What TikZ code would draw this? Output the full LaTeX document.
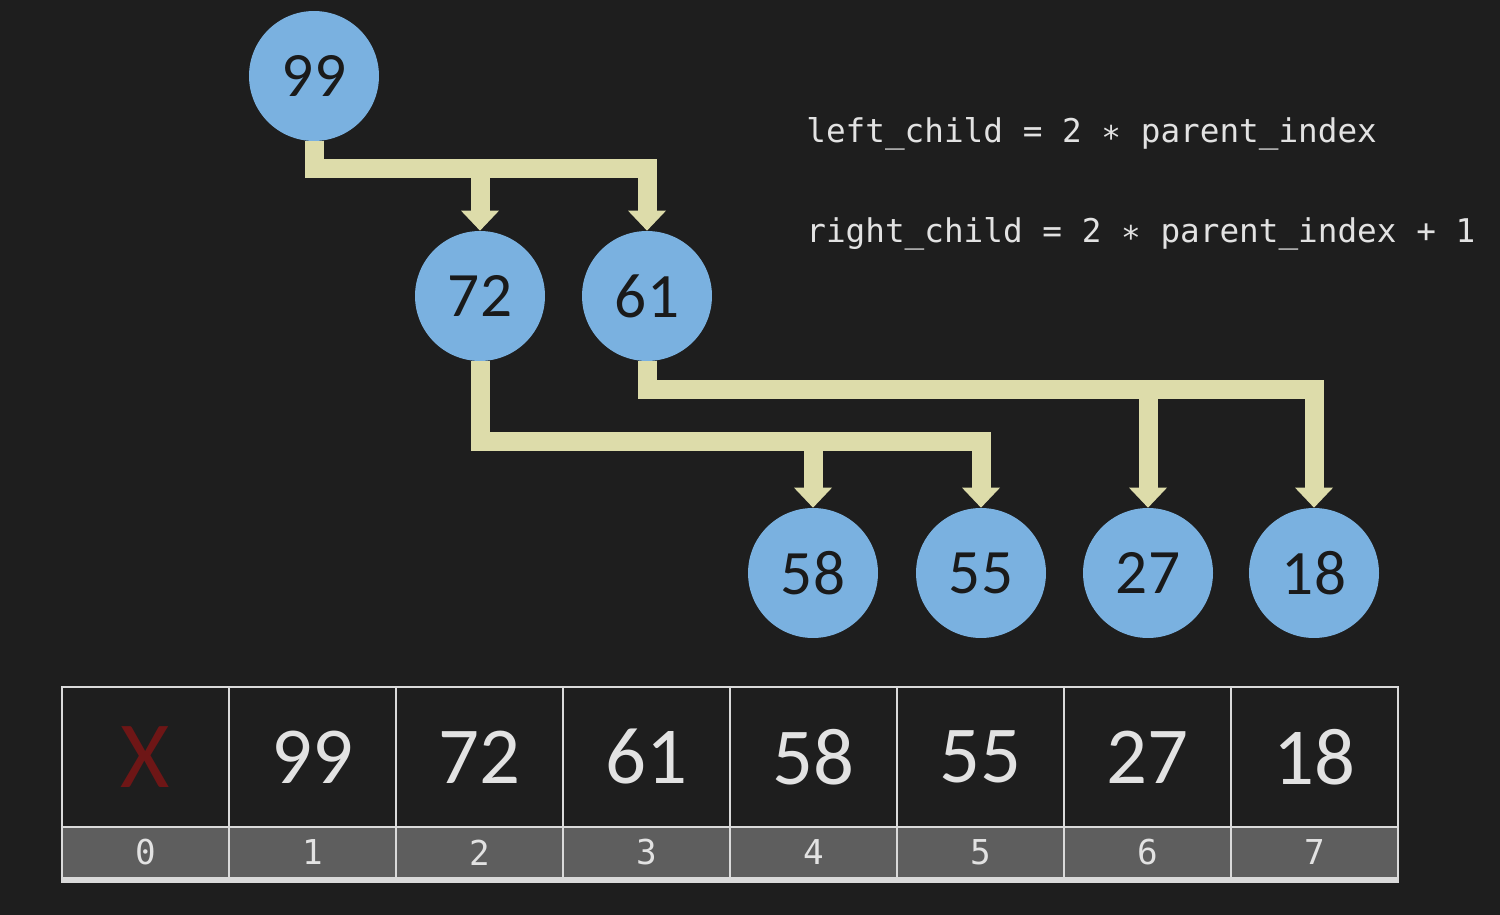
\documentclass[tikz,border=0pt]{standalone}
\usepackage{fontspec}
\setmainfont{Carlito}
\setmonofont{DejaVu Sans Mono}
\usepackage{tikz}
\usetikzlibrary{arrows.meta,backgrounds}
\definecolor{slidebg}{HTML}{1E1E1E}
\definecolor{heapblue}{HTML}{7AB1E0}
\definecolor{heapink}{HTML}{1A1A1A}
\definecolor{bandyellow}{HTML}{DDDCAA}
\definecolor{gridgrey}{HTML}{DADADA}
\definecolor{idxgrey}{HTML}{5E5E5E}
\definecolor{cellink}{HTML}{E2E2E2}
\definecolor{deadred}{HTML}{6E1616}
\newcommand{\Fterm}[1]{\texttt{\textcolor{cellink}{#1}}}
\newcommand{\Us}{\symbol{"5F}}
\newcommand{\Ast}{\raisebox{-0.35ex}{*}}

\begin{document}
\begin{tikzpicture}[x=0.02cm,y=-0.02cm,
  heapnode/.style={circle,fill=heapblue,minimum size=2.6cm,inner sep=0pt,
    text=heapink,font=\fontsize{36}{36}\selectfont},
  band/.style={draw=bandyellow,line width=0.38cm,
    -{Triangle[width=0.76cm,length=0.4cm,line width=0pt]}},
  valcell/.style={rectangle,draw=gridgrey,line width=0.04cm,inner sep=0pt,
    minimum width=3.34cm,minimum height=2.8cm,text=cellink,
    font=\fontsize{46}{46}\selectfont},
  idxcell/.style={rectangle,draw=gridgrey,fill=idxgrey,line width=0.04cm,inner sep=0pt,
    minimum width=3.34cm,minimum height=1.02cm,text=cellink,
    font=\ttfamily\fontsize{19.5}{19.5}\selectfont}]
\useasboundingbox (0,0) rectangle (1500,915);
% heap as a tree
\node (n99) [heapnode] at (314,76) {99};
\node (n72) [heapnode] at (480,296) {72};
\node (n61) [heapnode] at (647,296) {61};
\node (n58) [heapnode] at (813,573) {58};
\node (n55) [heapnode] at (981,573) {55};
\node (n27) [heapnode] at (1148,573) {27};
\node (n18) [heapnode] at (1314,573) {18};
%
\node (fleft) [anchor=base west,inner sep=0pt] at (806,143)
  {\fontsize{18.6}{18.6}\selectfont\Fterm{left\Us child = 2 \Ast{} parent\Us index}};
\node (fright) [anchor=base west,inner sep=0pt] at (806,243)
  {\fontsize{18.6}{18.6}\selectfont\Fterm{right\Us child = 2 \Ast{} parent\Us index + 1}};
% heap as an array
\node (v0) [valcell] at (145.5,757) {\textcolor{deadred}{\fontsize{54}{54}\selectfont X}};
\node (v1) [valcell] at (312.5,757) {99};
\node (v2) [valcell] at (479.5,757) {72};
\node (v3) [valcell] at (646.5,757) {61};
\node (v4) [valcell] at (813.5,757) {58};
\node (v5) [valcell] at (980.5,757) {55};
\node (v6) [valcell] at (1147.5,757) {27};
\node (v7) [valcell] at (1314.5,757) {18};
\node (i0) [idxcell] at (145.5,852.5) {0};
\node (i1) [idxcell] at (312.5,852.5) {1};
\node (i2) [idxcell] at (479.5,852.5) {2};
\node (i3) [idxcell] at (646.5,852.5) {3};
\node (i4) [idxcell] at (813.5,852.5) {4};
\node (i5) [idxcell] at (980.5,852.5) {5};
\node (i6) [idxcell] at (1147.5,852.5) {6};
\node (i7) [idxcell] at (1314.5,852.5) {7};
\draw[gridgrey,line width=0.08cm] ([yshift=-1]i0.south west) -- ([yshift=-1]i7.south east);
%
\begin{scope}[on background layer]
\fill[slidebg] (0,0) rectangle (1500,915);
\path (n99.south) ++(0,27) coordinate (j1);
\path (n72.south) ++(0,80) coordinate (j2);
\path (n61.south) ++(0,28) coordinate (j3);
\draw[band] (n99.south) -- (j1) -| (n61.north);
\draw[band] (n72.north |- j1) -- (n72.north);
\draw[band] (n72.south) -- (j2) -| (n55.north);
\draw[band] (n58.north |- j2) -- (n58.north);
\draw[band] (n61.south) -- (j3) -| (n18.north);
\draw[band] (n27.north |- j3) -- (n27.north);
\end{scope}
%
\end{tikzpicture}
\end{document}
